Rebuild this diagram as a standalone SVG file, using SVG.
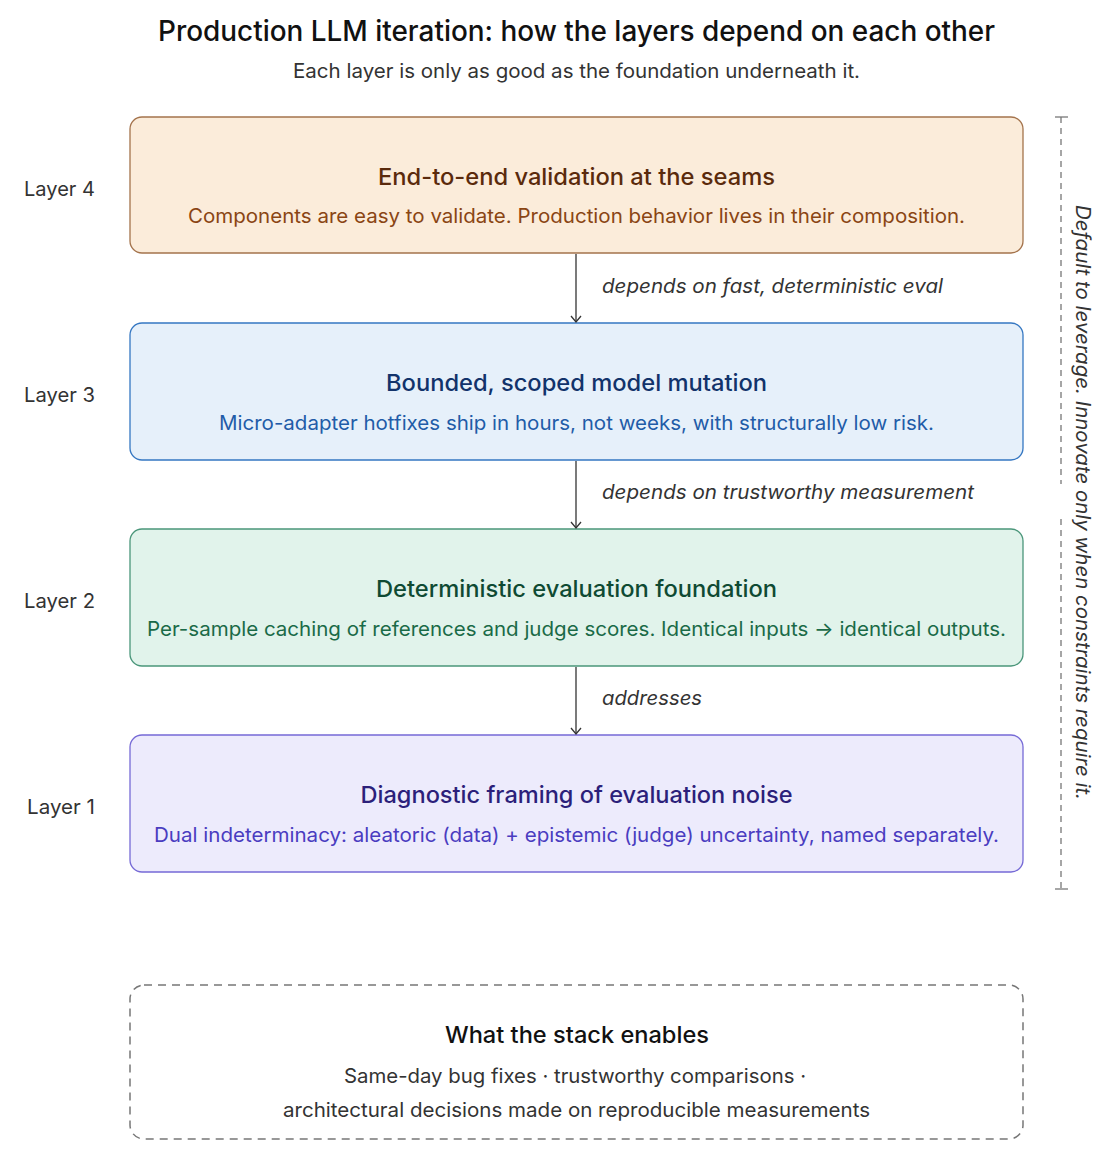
<svg xmlns="http://www.w3.org/2000/svg" width="1120" height="1159" viewBox="0 0 1120 1159">
<defs>
<marker id="arr" viewBox="0 0 12 12" refX="7" refY="6" markerWidth="12" markerHeight="12" markerUnits="userSpaceOnUse" orient="auto">
<path d="M1,1 L7,6 L1,11" fill="none" stroke="#333" stroke-width="1.3"/>
</marker>
<style>
text{font-family:Inter,"Noto Sans","Liberation Sans",sans-serif}
.title{font-size:28px;font-weight:500;fill:#111}
.sub{font-size:20px;fill:#333}
.lab{font-size:20px;fill:#333}
.ht{font-size:23px;font-weight:500}
.st{font-size:20px}
.cl{font-size:20px;font-style:italic;fill:#333}
.box{stroke-width:1.3}
.conn{stroke:#333;stroke-width:1.3;fill:none}
</style>
</defs>
<rect width="1120" height="1159" fill="#fff"/>
<text class="title" x="576.5" y="41" text-anchor="middle" textLength="837" lengthAdjust="spacingAndGlyphs">Production LLM iteration: how the layers depend on each other</text>
<text class="sub" x="576.5" y="78" text-anchor="middle" textLength="567" lengthAdjust="spacingAndGlyphs">Each layer is only as good as the foundation underneath it.</text>

<g id="layer4">
<rect class="box" x="130" y="117" width="893" height="136" rx="12" fill="#FBECDA" stroke="#A4734C"/>
<text class="lab" x="59.5" y="196" text-anchor="middle" textLength="71" lengthAdjust="spacingAndGlyphs">Layer 4</text>
<text class="ht" x="576.5" y="185" text-anchor="middle" fill="#5A2A0C" textLength="397" lengthAdjust="spacingAndGlyphs">End-to-end validation at the seams</text>
<text class="st" x="576.5" y="223" text-anchor="middle" fill="#8A4513" textLength="777" lengthAdjust="spacingAndGlyphs">Components are easy to validate. Production behavior lives in their composition.</text>
</g>
<g id="layer3">
<rect class="box" x="130" y="323" width="893" height="137" rx="12" fill="#E6F0FA" stroke="#3577C2"/>
<text class="lab" x="59.5" y="402" text-anchor="middle" textLength="71" lengthAdjust="spacingAndGlyphs">Layer 3</text>
<text class="ht" x="576.5" y="391" text-anchor="middle" fill="#12336B" textLength="381" lengthAdjust="spacingAndGlyphs">Bounded, scoped model mutation</text>
<text class="st" x="576.5" y="430" text-anchor="middle" fill="#1F5CA8" textLength="715" lengthAdjust="spacingAndGlyphs">Micro-adapter hotfixes ship in hours, not weeks, with structurally low risk.</text>
</g>
<g id="layer2">
<rect class="box" x="130" y="529" width="893" height="137" rx="12" fill="#E1F3EB" stroke="#4A967A"/>
<text class="lab" x="59.5" y="608" text-anchor="middle" textLength="71" lengthAdjust="spacingAndGlyphs">Layer 2</text>
<text class="ht" x="576.5" y="597" text-anchor="middle" fill="#0F4A33" textLength="401" lengthAdjust="spacingAndGlyphs">Deterministic evaluation foundation</text>
<text class="st" x="576.5" y="636" text-anchor="middle" fill="#1A6A47" textLength="859" lengthAdjust="spacingAndGlyphs">Per-sample caching of references and judge scores. Identical inputs → identical outputs.</text>
</g>
<g id="layer1">
<rect class="box" x="130" y="735" width="893" height="137" rx="12" fill="#EDEBFC" stroke="#766AD6"/>
<text class="lab" x="61" y="814" text-anchor="middle" textLength="68" lengthAdjust="spacingAndGlyphs">Layer 1</text>
<text class="ht" x="576.5" y="803" text-anchor="middle" fill="#2C1F7A" textLength="432" lengthAdjust="spacingAndGlyphs">Diagnostic framing of evaluation noise</text>
<text class="st" x="576.5" y="842" text-anchor="middle" fill="#4A3CC0" textLength="845" lengthAdjust="spacingAndGlyphs">Dual indeterminacy: aleatoric (data) + epistemic (judge) uncertainty, named separately.</text>
</g>

<g id="connectors">
<line class="conn" x1="576" y1="254" x2="576" y2="322" marker-end="url(#arr)"/>
<line class="conn" x1="576" y1="461" x2="576" y2="528" marker-end="url(#arr)"/>
<line class="conn" x1="576" y1="667" x2="576" y2="734" marker-end="url(#arr)"/>
<text class="cl" x="602" y="293" textLength="341" lengthAdjust="spacingAndGlyphs">depends on fast, deterministic eval</text>
<text class="cl" x="602" y="499" textLength="372" lengthAdjust="spacingAndGlyphs">depends on trustworthy measurement</text>
<text class="cl" x="602" y="705" textLength="100" lengthAdjust="spacingAndGlyphs">addresses</text>
</g>

<g id="bracket" stroke="#777" stroke-width="1.3" fill="none">
<line x1="1061" y1="117" x2="1061" y2="484" stroke-dasharray="6 5"/>
<line x1="1061" y1="519" x2="1061" y2="889" stroke-dasharray="6 5"/>
<line x1="1055" y1="117" x2="1068" y2="117"/>
<line x1="1055" y1="889" x2="1068" y2="889"/>
</g>
<text class="cl" transform="translate(1076,502.5) rotate(90)" text-anchor="middle" textLength="595" lengthAdjust="spacingAndGlyphs">Default to leverage. Innovate only when constraints require it.</text>

<g id="enables">
<rect x="130" y="985" width="893" height="154" rx="14" fill="none" stroke="#777" stroke-width="1.5" stroke-dasharray="8 6"/>
<text class="ht" x="577" y="1043" text-anchor="middle" fill="#111" textLength="264" lengthAdjust="spacingAndGlyphs">What the stack enables</text>
<text class="st" x="575" y="1083" text-anchor="middle" fill="#333" textLength="462" lengthAdjust="spacingAndGlyphs">Same-day bug fixes · trustworthy comparisons ·</text>
<text class="st" x="576.5" y="1117" text-anchor="middle" fill="#333" textLength="587" lengthAdjust="spacingAndGlyphs">architectural decisions made on reproducible measurements</text>
</g>
</svg>
